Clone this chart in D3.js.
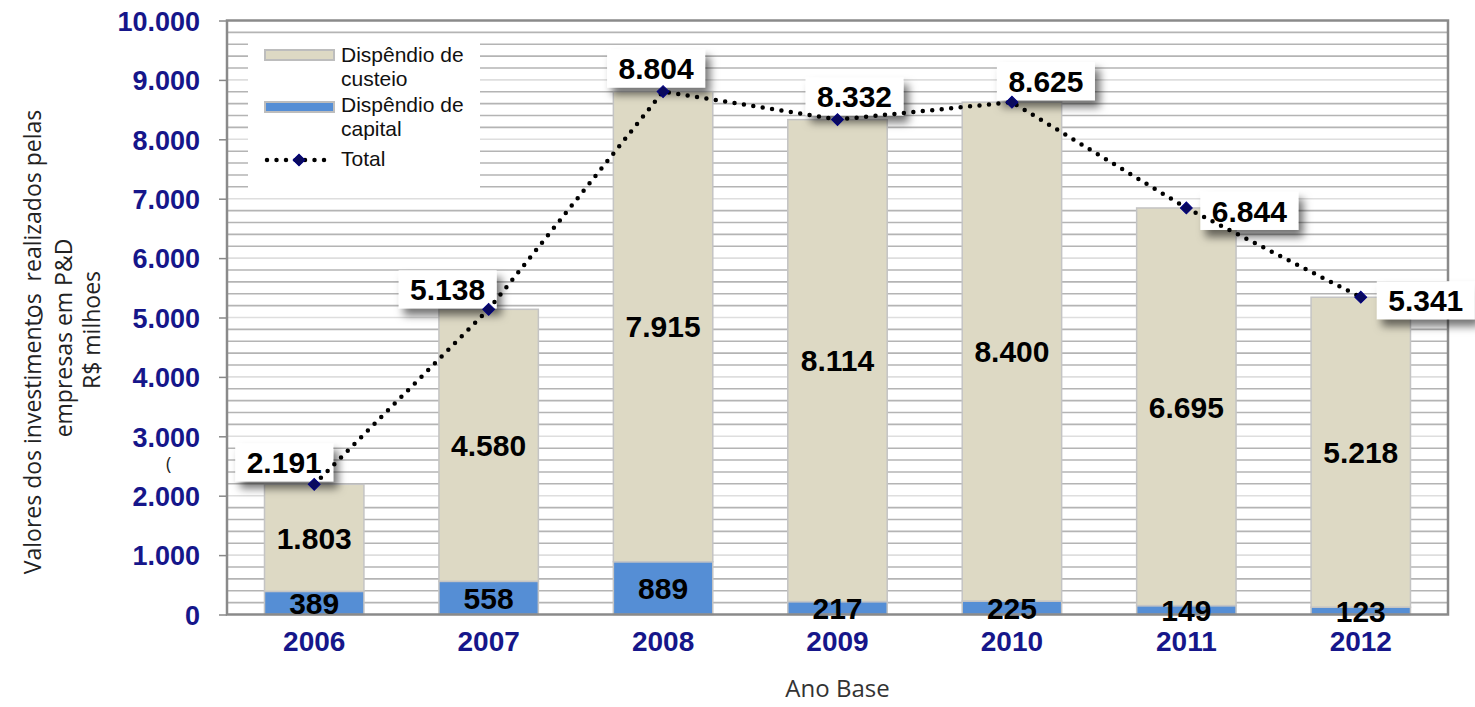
<!DOCTYPE html>
<html><head><meta charset="utf-8">
<script src="https://cdn.jsdelivr.net/npm/d3@7"></script>
<style>
html,body{margin:0;padding:0;background:#fff;}
svg{display:block;}
</style></head>
<body>
<svg id="chart" width="1475" height="707"></svg>
<script>
// ---- data ----
const years = ["2006","2007","2008","2009","2010","2011","2012"];
const capital = [389, 558, 889, 217, 225, 149, 123];
const custeio = [1803, 4580, 7915, 8114, 8400, 6695, 5218];
const total = [2191, 5138, 8804, 8332, 8625, 6844, 5341];
const yTickValues = [0,1000,2000,3000,4000,5000,6000,7000,8000,9000,10000];
const yTickLabels = ["0","1.000","2.000","3.000","4.000","5.000","6.000","7.000","8.000","9.000","10.000"];
const legendLabels = [["Dispêndio de","custeio"],["Dispêndio de","capital"],["Total"]];
const yTitleLines = ["Valores dos investimentos  realizados pelas","empresas em P&D","R$ milhoes"];
const xTitle = "Ano Base";
// label box offsets relative to each total marker (layout)
const labelOffsets = [[-30,-22],[-41,-20],[-7,-23],[17,-23],[34,-21],[63,3],[65,3]];

const fmt = v => d3.format(",")(v).replace(/,/g, ".");

const svg = d3.select("#chart");
const L = 227, R = 1448, T = 20.5, B = 614.5;
const navy = "#16168a";
const numFont = "'Liberation Sans', Arial, sans-serif";

const x = d3.scaleBand().domain(years).range([L, R]).paddingInner(0.43).paddingOuter(0.215);
const y = d3.scaleLinear().domain([0, 10000]).range([B, T]);

const defs = svg.append("defs");
const f = defs.append("filter").attr("id","shadow").attr("x","-30%").attr("y","-30%").attr("width","170%").attr("height","190%");
f.append("feDropShadow").attr("dx",5).attr("dy",7).attr("stdDeviation",4)
  .attr("flood-color","#000").attr("flood-opacity",0.55);

// grid lines every 200
const gridVals = d3.range(200, 10000, 200);
svg.append("g").selectAll("line").data(gridVals).join("line")
  .attr("x1", L).attr("x2", R)
  .attr("y1", d => y(d)).attr("y2", d => y(d))
  .attr("stroke", d => d % 1000 === 0 ? "#dedede" : "#b4b4b4")
  .attr("stroke-width", 1.6);

// legend background
svg.append("rect").attr("x",248).attr("y",36).attr("width",232).attr("height",152).attr("fill","#fff");

// y axis
const yAxis = d3.axisLeft(y).tickValues(yTickValues).tickSize(8)
  .tickFormat((d,i) => yTickLabels[i]);
const ya = svg.append("g").attr("transform", `translate(${L},0)`).call(yAxis);
ya.select(".domain").remove();
ya.selectAll(".tick line").attr("stroke","#888").attr("stroke-width",1.5);
ya.selectAll(".tick text").attr("x",-27).attr("dy","0.36em")
  .attr("fill",navy).attr("font-family",numFont).attr("font-weight","bold").attr("font-size",27);

// x axis labels
const xAxis = d3.axisBottom(x).tickSize(0);
const xa = svg.append("g").attr("transform", `translate(0,${B})`).call(xAxis);
xa.select(".domain").remove();
xa.selectAll(".tick text").attr("y",36).attr("dy","0")
  .attr("fill",navy).attr("font-family",numFont).attr("font-weight","bold").attr("font-size",28);

// bars
const stackData = years.map((yr,i) => ({year: yr, capital: capital[i], custeio: custeio[i]}));
const series = d3.stack().keys(["capital","custeio"])(stackData);
const colors = {capital: "#558ed5", custeio: "#ddd9c4"};
svg.append("g").selectAll("g").data(series).join("g")
  .attr("fill", d => colors[d.key])
  .selectAll("rect").data(d => d).join("rect")
  .attr("x", d => x(d.data.year)).attr("width", x.bandwidth())
  .attr("y", d => y(d[1])).attr("height", d => y(d[0]) - y(d[1]))
  .attr("stroke", "#c4c4c4").attr("stroke-width", 1.5);

// frame
svg.append("rect").attr("x",L).attr("y",T).attr("width",R-L).attr("height",B-T)
  .attr("fill","none").attr("stroke","#8a8a8a").attr("stroke-width",2.5);

// total label boxes
const bw = 98, bh = 38;
const boxes = svg.append("g");
years.forEach((yr,i) => {
  const cx = x(yr) + x.bandwidth()/2 + labelOffsets[i][0];
  const cy = y(total[i]) + labelOffsets[i][1];
  boxes.append("rect").attr("x", cx - bw/2).attr("y", cy - bh/2).attr("width", bw).attr("height", bh)
    .attr("fill","#fff").attr("filter","url(#shadow)");
  boxes.append("text").attr("x", cx).attr("y", cy).attr("dy","0.36em").attr("text-anchor","middle")
    .attr("font-family",numFont).attr("font-weight","bold").attr("font-size",30).attr("fill","#000")
    .text(fmt(total[i]));
});

// segment labels
const segLabels = svg.append("g");
series.forEach(s => {
  s.forEach(d => {
    segLabels.append("text")
      .attr("x", x(d.data.year) + x.bandwidth()/2)
      .attr("y", (y(d[0]) + y(d[1]))/2).attr("dy","0.36em")
      .attr("text-anchor","middle")
      .attr("font-family",numFont).attr("font-weight","bold").attr("font-size",30).attr("fill","#000")
      .text(fmt(d.data[s.key]));
  });
});

// total line
const line = d3.line().x((d,i) => x(years[i]) + x.bandwidth()/2).y(d => y(d));
svg.append("path").datum(total).attr("d", line)
  .attr("fill","none").attr("stroke","#000").attr("stroke-width",4.5)
  .attr("stroke-linecap","round").attr("stroke-dasharray","0 9.5");
const diamond = d3.symbol().type(d3.symbolSquare).size(70);
svg.append("g").selectAll("path").data(total).join("path")
  .attr("d", diamond)
  .attr("transform", (d,i) => `translate(${x(years[i]) + x.bandwidth()/2},${y(d)}) rotate(45)`)
  .attr("fill","#0a0a5e").attr("stroke","#000080").attr("stroke-width",1);

// legend
const lg = svg.append("g");
lg.append("rect").attr("x",265).attr("y",50).attr("width",69).attr("height",10)
  .attr("fill",colors.custeio).attr("stroke","#bdbdbd").attr("stroke-width",2);
lg.append("rect").attr("x",265).attr("y",102).attr("width",69).attr("height",10)
  .attr("fill",colors.capital).attr("stroke","#bdbdbd").attr("stroke-width",2);
lg.append("line").attr("x1",267).attr("x2",333).attr("y1",160).attr("y2",160)
  .attr("stroke","#000").attr("stroke-width",4.5).attr("stroke-linecap","round").attr("stroke-dasharray","0 9.5");
lg.append("path").attr("d", diamond).attr("transform","translate(299,160) rotate(45)")
  .attr("fill","#0a0a5e").attr("stroke","#000080");
const legendBaselines = [[62,86],[112,136],[166]];
legendLabels.forEach((lines,i) => {
  lines.forEach((t,j) => {
    lg.append("text").attr("x",341).attr("y",legendBaselines[i][j])
      .attr("font-family",numFont).attr("font-size",21).attr("fill","#111").text(t);
  });
});

// axis titles
svg.append("text").attr("x",(L+R)/2).attr("y",697).attr("text-anchor","middle")
  .attr("font-family","'Open Sans', sans-serif").attr("font-size",24).attr("fill","#333").text(xTitle);
const titleX = [33, 64, 92];
const titleY = [342, 338, 330];
yTitleLines.forEach((t,i) => {
  svg.append("text").attr("transform",`translate(${titleX[i]},${titleY[i]}) rotate(-90)`)
    .attr("text-anchor","middle").attr("dy","0.35em")
    .attr("font-family","'Open Sans', sans-serif").attr("font-size",23).attr("fill","#222")
    .style("white-space","pre").text(t);
});
// stray brackets present in the original artwork
svg.append("text").attr("x",38).attr("y",320).attr("font-family","'Open Sans', sans-serif").attr("font-size",18).attr("fill","#222").text(")");
svg.append("text").attr("x",166).attr("y",470).attr("font-family","'Open Sans', sans-serif").attr("font-size",18).attr("fill","#222").text("(");
</script>
</body></html>
